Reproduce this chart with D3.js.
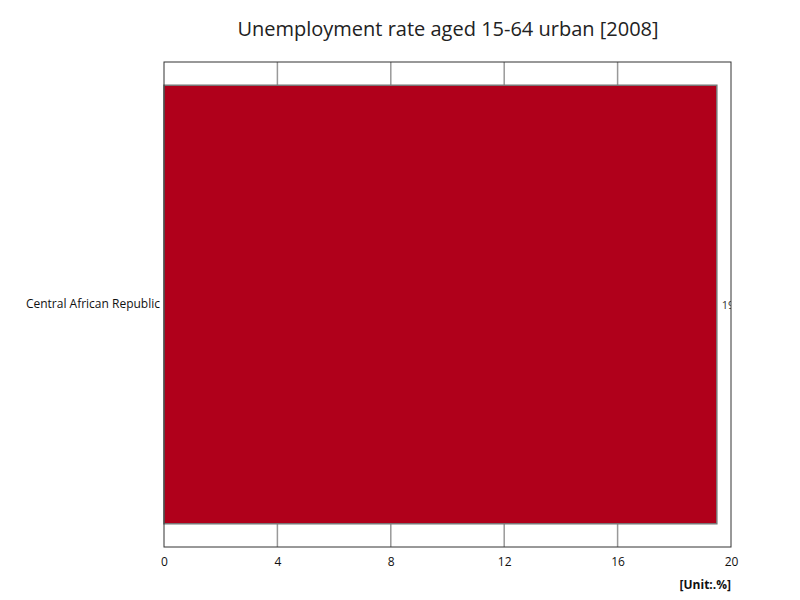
<!DOCTYPE html>
<html><head><meta charset="utf-8">
<script src="https://cdn.jsdelivr.net/npm/d3@7"></script>
<style>body{margin:0;background:#fff}</style></head>
<body><svg id="c" width="800" height="600"></svg>
<script>
const categories = ["Central African Republic"];
const values = [19.5];
const ticks = [0,4,8,12,16,20];
const svg = d3.select("#c");
const L=164,R=731,T=62,B=547;
const x = d3.scaleLinear().domain([0,20]).range([L,R]);
const y = d3.scaleBand().domain(categories).range([T,B]).paddingInner(0).paddingOuter(0.053);
svg.append("text").attr("x",448).attr("y",36).attr("text-anchor","middle")
  .attr("font-family","Open Sans, sans-serif").attr("font-size",20).attr("fill","#222")
  .text("Unemployment rate aged 15-64 urban [2008]");
const g = svg.append("g");
g.selectAll("line.grid").data(ticks.slice(1,-1)).enter().append("line")
  .attr("x1",d=>x(d)).attr("x2",d=>x(d)).attr("y1",T).attr("y2",B)
  .attr("stroke","#999").attr("stroke-width",1.5);
const clip = svg.append("clipPath").attr("id","cp").append("rect")
  .attr("x",L).attr("y",T).attr("width",R-L).attr("height",B-T);
g.selectAll("rect.bar").data(values).enter().append("rect")
  .attr("x",x(0)).attr("y",(d,i)=>y(categories[i])).attr("width",d=>x(d)-x(0))
  .attr("height",y.bandwidth()).attr("fill","#b0001b").attr("stroke","#777").attr("stroke-width",1.5);
g.append("g").attr("clip-path","url(#cp)").selectAll("text").data(values).enter().append("text")
  .attr("x",d=>x(d)+5).attr("y",(d,i)=>y(categories[i])+y.bandwidth()/2+4)
  .attr("font-family","Open Sans, sans-serif").attr("font-size",11).attr("fill","#333").text(d=>d);
svg.append("rect").attr("x",L).attr("y",T).attr("width",R-L).attr("height",B-T)
  .attr("fill","none").attr("stroke","#333").attr("stroke-width",1);
const ax = d3.axisBottom(x).tickValues(ticks).tickSize(0).tickPadding(10);
svg.append("g").attr("transform",`translate(0,${B})`).call(ax)
  .call(s=>s.select(".domain").remove())
  .selectAll("text").attr("font-family","Open Sans, sans-serif").attr("font-size",12).attr("fill","#111");
svg.selectAll(".tk").data(ticks).enter().append("line").attr("x1",d=>x(d)).attr("x2",d=>x(d))
  .attr("y1",B).attr("y2",B+0).attr("stroke","#333");
const ay = d3.axisLeft(y).tickSize(0).tickPadding(4);
svg.append("g").attr("transform",`translate(${L},0)`).call(ay)
  .call(s=>s.select(".domain").remove())
  .selectAll("text").attr("font-family","Open Sans, sans-serif").attr("font-size",12).attr("fill","#111");
svg.append("text").attr("x",731).attr("y",589).attr("text-anchor","end")
  .attr("font-family","Open Sans, sans-serif").attr("font-size",12).attr("font-weight","bold").attr("fill","#111")
  .text("[Unit:.%]");
</script></body></html>
